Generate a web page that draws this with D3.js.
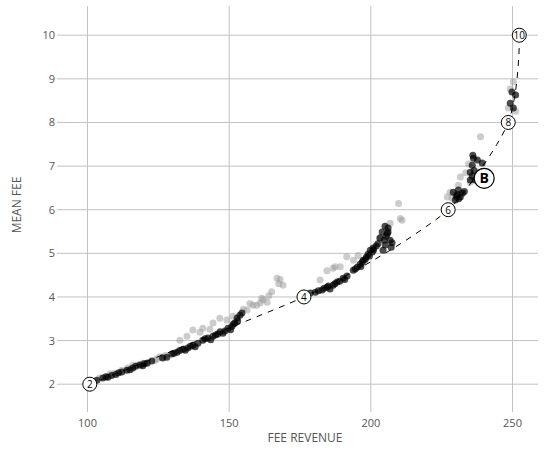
<!DOCTYPE html>
<html>
<head>
<meta charset="utf-8">
<script src="https://cdn.jsdelivr.net/npm/d3@7"></script>
<style>
  body { margin: 0; background: #fff; }
  text { font-family: "Open Sans", sans-serif; fill: #555; }
</style>
</head>
<body>
<svg id="chart" width="552" height="454"></svg>
<script>
// dashed reference curve: fee -> revenue
var curveFee = [2, 2.5, 3, 3.5, 4, 4.5, 5, 5.5, 6, 6.5, 7, 7.5, 8, 8.5, 9, 9.5, 10];
var curveRev = [100.8, 120, 139, 158, 176.4, 191.5, 205, 217, 227.3, 234, 239.5, 244.5, 248.5, 250.5, 251.6, 252.2, 252.5];

// labelled points on the curve
var markFee = [2, 4, 6, 8, 10];
var markRev = [100.8, 176.4, 227.3, 248.5, 252.4];
var markText = ["2", "4", "6", "8", "10"];
var bestPoint = { rev: 240, fee: 6.72, label: "B" };

// dark observations [revenue, fee]
var darkPts = [
  [103.3, 2.09], [105.4, 2.14], [107.2, 2.16], [110.0, 2.22], [112.1, 2.28], [113.9, 2.32],
  [116.0, 2.37], [118.5, 2.44], [121.0, 2.48], [122.7, 2.53], [115.0, 2.33], [119.5, 2.42],
  [102.0, 2.06], [106.5, 2.17], [108.5, 2.20], [111.0, 2.26], [117.0, 2.41], [120.0, 2.47],
  [128.0, 2.62], [129.8, 2.69], [131.6, 2.73], [133.7, 2.80], [135.4, 2.83], [137.2, 2.89],
  [139.0, 2.94], [140.7, 3.01], [142.5, 3.06], [144.3, 3.10], [146.0, 3.15], [147.8, 3.17],
  [149.6, 3.28], [151.0, 3.33], [152.0, 3.40], [150.5, 3.25], [153.8, 3.58], [154.5, 3.63],
  [134.5, 2.78], [138.0, 2.86], [143.5, 3.02], [148.5, 3.22], [126.5, 2.60], [130.5, 2.71],
  [132.5, 2.77], [136.3, 2.87], [141.5, 3.04], [145.2, 3.13], [146.8, 3.20], [151.5, 3.38],
  [153.0, 3.45], [152.8, 3.52],
  [178.6, 4.09], [180.4, 4.11], [182.8, 4.16], [184.6, 4.22], [185.6, 4.18], [186.7, 4.27],
  [188.1, 4.34], [190.2, 4.43], [191.6, 4.48], [189.0, 4.36], [181.5, 4.14], [183.5, 4.20],
  [187.3, 4.30], [190.8, 4.40], [185.0, 4.25],
  [193.8, 4.61], [195.2, 4.68], [196.2, 4.75], [197.3, 4.84], [198.4, 4.91], [199.0, 4.98],
  [199.8, 5.07], [200.8, 5.12], [200.5, 5.03], [201.9, 5.17], [198.0, 4.86], [196.5, 4.70],
  [194.5, 4.64], [197.0, 4.80], [199.5, 4.94], [201.0, 5.08], [202.5, 5.22], [203.2, 5.35],
  [204.0, 5.49], [205.4, 5.39], [206.1, 5.49], [206.8, 5.30], [205.1, 5.19], [204.3, 5.07],
  [207.2, 5.14], [204.7, 5.30], [206.1, 5.58], [205.8, 5.45], [207.5, 5.24], [205.0, 5.62],
  [229.1, 6.40], [230.2, 6.31], [230.9, 6.45], [232.3, 6.38], [229.8, 6.22], [231.6, 6.29],
  [230.5, 6.35], [231.0, 6.25], [233.0, 6.42],
  [235.1, 6.86], [235.8, 6.77], [235.1, 6.68], [236.9, 6.68], [236.2, 7.18], [237.6, 7.14],
  [239.3, 7.07], [235.8, 7.02], [236.5, 6.90], [236.0, 7.25],
  [249.8, 8.70], [251.1, 8.63], [249.2, 8.44], [250.3, 8.33]
];

// light observations [revenue, fee]
var lightPts = [
  [104.3, 2.14], [109.6, 2.25], [112.1, 2.32], [114.2, 2.37], [117.8, 2.44], [121.3, 2.50],
  [123.8, 2.55], [126.6, 2.62], [124.5, 2.58], [108.0, 2.24], [116.0, 2.43], [119.5, 2.48],
  [125.5, 2.63], [127.5, 2.66],
  [132.6, 3.01], [135.1, 3.10], [137.2, 3.24], [139.7, 3.19], [140.7, 3.28], [143.2, 3.26],
  [144.3, 3.40], [146.7, 3.51], [149.2, 3.47], [151.3, 3.56],
  [156.3, 3.70], [158.4, 3.81], [159.7, 3.81], [160.9, 3.86], [162.0, 3.93], [163.4, 3.88],
  [165.0, 4.12], [166.9, 4.43], [169.0, 4.27], [157.3, 3.85], [161.5, 3.97], [164.0, 4.03],
  [167.5, 4.30], [168.0, 4.40], [155.0, 3.72],
  [182.1, 4.39], [186.7, 4.66], [187.4, 4.69], [189.2, 4.69], [191.5, 4.92], [193.9, 4.84],
  [184.5, 4.60], [195.5, 4.95],
  [203.3, 5.35], [206.8, 5.69], [210.4, 5.80], [209.8, 6.14], [211.0, 5.76],
  [238.7, 7.67], [235.1, 6.63], [230.9, 6.56], [228.0, 6.40], [228.7, 6.27], [227.0, 6.29],
  [231.6, 6.75], [233.5, 6.85], [234.5, 7.05],
  [250.3, 8.93], [249.2, 8.77], [248.5, 8.33], [251.1, 8.26]
];

var xTicks = [100, 150, 200, 250];
var yTicks = [2, 3, 4, 5, 6, 7, 8, 9, 10];

var svg = d3.select("#chart");
var plotLeft = 62, plotRight = 538, plotTop = 6, plotBottom = 406;

var x = d3.scaleLinear().domain([91, 259]).range([plotLeft, plotRight]);
var y = d3.scaleLinear().domain([1.5, 10.67]).range([plotBottom, plotTop]);

// grid lines (they run past the frame as ticks)
var grid = svg.append("g").attr("class", "grid");
grid.selectAll("line.v")
  .data(xTicks)
  .enter()
  .append("line")
  .attr("class", "v")
  .attr("x1", (d) => x(d))
  .attr("x2", (d) => x(d))
  .attr("y1", plotTop)
  .attr("y2", plotBottom + 6)
  .attr("stroke", "#c2c2c2")
  .attr("stroke-width", 1);
grid.selectAll("line.h")
  .data(yTicks)
  .enter()
  .append("line")
  .attr("class", "h")
  .attr("x1", plotLeft - 5)
  .attr("x2", plotRight)
  .attr("y1", (d) => y(d))
  .attr("y2", (d) => y(d))
  .attr("stroke", "#c2c2c2")
  .attr("stroke-width", 1);

// tick labels
svg.append("g")
  .selectAll("text")
  .data(xTicks)
  .enter()
  .append("text")
  .attr("x", (d) => x(d))
  .attr("y", 427)
  .attr("text-anchor", "middle")
  .style("font-size", "11px")
  .text((d) => d);
svg.append("g")
  .selectAll("text")
  .data(yTicks)
  .enter()
  .append("text")
  .attr("x", 55)
  .attr("y", (d) => y(d) + 4)
  .attr("text-anchor", "end")
  .style("font-size", "11px")
  .text((d) => d);

// axis titles
svg.append("text")
  .attr("x", 305)
  .attr("y", 442)
  .attr("text-anchor", "middle")
  .style("font-size", "12px")
  .text("FEE REVENUE");
svg.append("text")
  .attr("transform", "translate(21,205) rotate(-90)")
  .attr("text-anchor", "middle")
  .style("font-size", "12px")
  .text("MEAN FEE");

// scatter
var pts = svg.append("g").attr("class", "points");
pts.selectAll("circle.light")
  .data(lightPts)
  .enter()
  .append("circle")
  .attr("class", "light")
  .attr("cx", (d) => x(d[0]))
  .attr("cy", (d) => y(d[1]))
  .attr("r", 3.5)
  .attr("fill", "#9a9a9a")
  .attr("fill-opacity", 0.5);
pts.selectAll("circle.dark")
  .data(darkPts)
  .enter()
  .append("circle")
  .attr("class", "dark")
  .attr("cx", (d) => x(d[0]))
  .attr("cy", (d) => y(d[1]))
  .attr("r", 3.5)
  .attr("fill", "#000")
  .attr("fill-opacity", 0.7);

// dashed curve
var curveData = curveFee.map((f, i) => [curveRev[i], f]);
var line = d3.line()
  .x((d) => x(d[0]))
  .y((d) => y(d[1]))
  .curve(d3.curveMonotoneY);
svg.append("path")
  .datum(curveData)
  .attr("d", line)
  .attr("fill", "none")
  .attr("stroke", "#000")
  .attr("stroke-width", 1)
  .attr("stroke-dasharray", "6,6");

// numbered markers
var marks = svg.append("g").attr("class", "marks")
  .selectAll("g")
  .data(markFee.map((f, i) => ({ rev: markRev[i], fee: f, label: markText[i] })))
  .enter()
  .append("g")
  .attr("transform", (d) => "translate(" + x(d.rev) + "," + y(d.fee) + ")");
marks.append("circle")
  .attr("r", 7)
  .attr("fill", "#fff")
  .attr("stroke", "#000")
  .attr("stroke-width", 1);
marks.append("text")
  .attr("y", 4)
  .attr("text-anchor", "middle")
  .style("font-size", "10px")
  .style("fill", "#000")
  .text((d) => d.label);

var b = svg.append("g")
  .attr("transform", "translate(" + x(bestPoint.rev) + "," + y(bestPoint.fee) + ")");
b.append("circle")
  .attr("r", 10)
  .attr("fill", "#fff")
  .attr("stroke", "#000")
  .attr("stroke-width", 1.2);
b.append("text")
  .attr("y", 5)
  .attr("text-anchor", "middle")
  .style("font-size", "14px")
  .style("font-weight", "bold")
  .style("fill", "#000")
  .text(bestPoint.label);
</script>
</body>
</html>
